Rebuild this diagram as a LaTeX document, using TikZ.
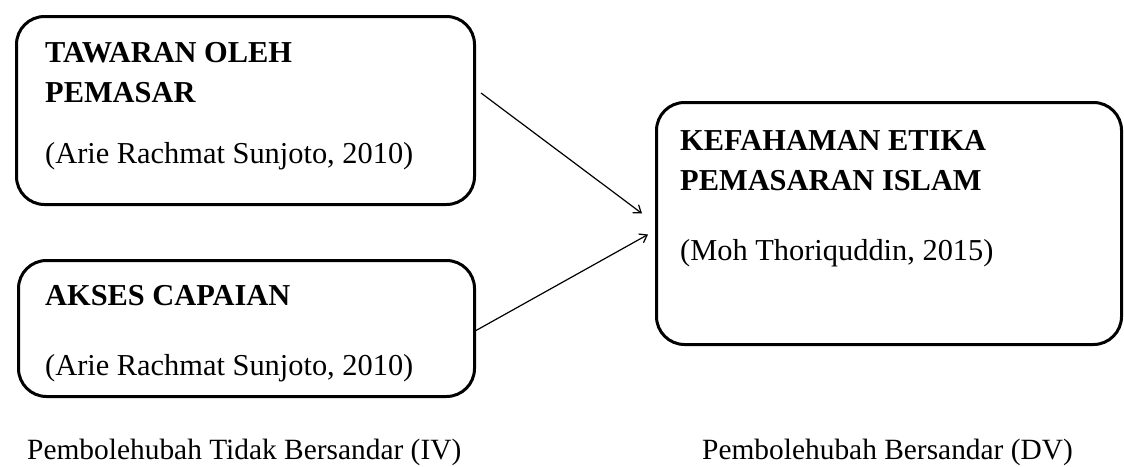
\documentclass[tikz,border=0pt]{standalone}
\usepackage{fontspec}
\setmainfont{Liberation Serif}
\usetikzlibrary{arrows.meta}
\begin{document}
\begin{tikzpicture}[x=1pt,y=-1pt,
  box/.style={draw,line width=3pt,rounded corners=28pt,anchor=north west,inner sep=0pt},
  txt/.style={anchor=base west,inner sep=0pt,font=\fontsize{30.4}{36}\selectfont},
  btxt/.style={txt,font=\fontsize{30.4}{36}\selectfont\bfseries},
  lbl/.style={anchor=base west,inner sep=0pt,font=\fontsize{29.4}{36}\selectfont},
  arr/.style={line width=1.2pt,-{Straight Barb[length=7pt,width=10pt]}}]
\useasboundingbox (0,0) rectangle (1124,466);
\node[box,minimum width=458pt,minimum height=188pt] (b1) at (15,15) {};
\node[box,minimum width=456pt,minimum height=136pt] (b2) at (17,259) {};
\node[box,minimum width=465pt,minimum height=242pt] (b3) at (655,101) {};
\node[btxt] (t1a) at (45,62) {TAWARAN OLEH};
\node[btxt] (t1b) at (45,102) {PEMASAR};
\node[txt] (t1c) at (45,163) {(Arie Rachmat Sunjoto, 2010)};
\node[btxt] (t2a) at (45,305) {AKSES CAPAIAN};
\node[txt] (t2b) at (45,375) {(Arie Rachmat Sunjoto, 2010)};
\node[btxt] (t3a) at (680,150) {KEFAHAMAN ETIKA};
\node[btxt] (t3b) at (680,190) {PEMASARAN ISLAM};
\node[txt] (t3c) at (680,260) {(Moh Thoriquddin, 2015)};
\node[lbl] (l1) at (27,459) {Pembolehubah Tidak Bersandar (IV)};
\node[lbl] (l2) at (702,459) {Pembolehubah Bersandar (DV)};
\draw[arr] ([xshift=5pt,yshift=-78pt]b1.north east) -- ([xshift=-13pt,yshift=10pt]b3.west);
\draw[arr] ([xshift=0pt,yshift=-2pt]b2.east) -- ([xshift=-7pt,yshift=-11pt]b3.west);
\end{tikzpicture}
\end{document}
